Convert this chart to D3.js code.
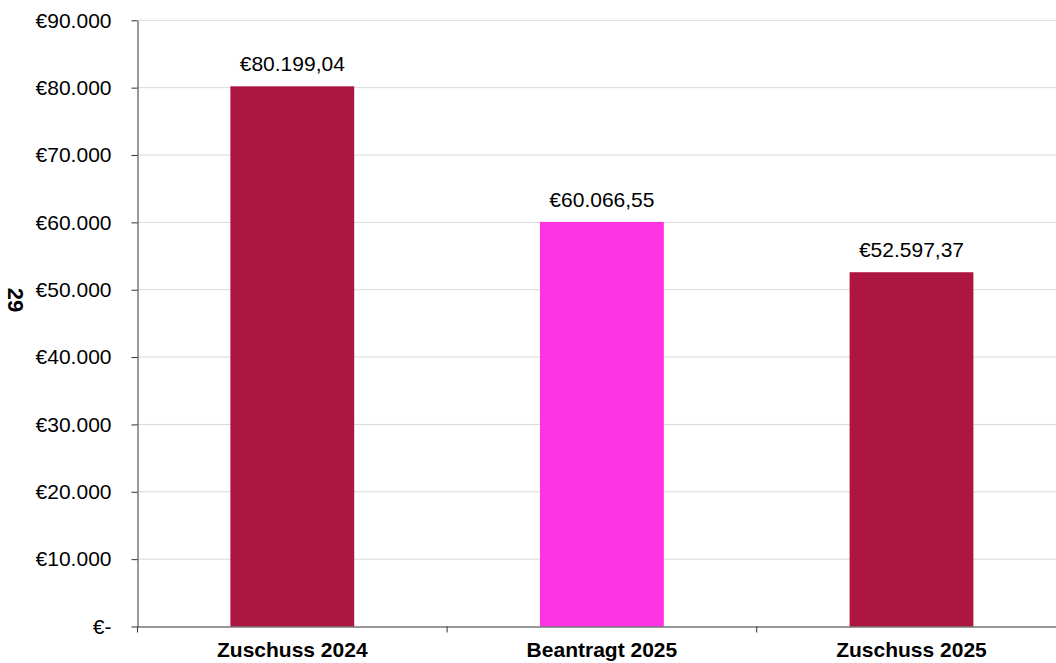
<!DOCTYPE html>
<html><head><meta charset="utf-8">
<script src="https://cdn.jsdelivr.net/npm/d3@7"></script>
<style>body{margin:0;background:#fff}svg{display:block}text{font-family:"Liberation Sans",Arial,sans-serif}</style>
</head><body><svg id="c" width="1056" height="663"></svg>
<script>
const categories = ["Zuschuss 2024", "Beantragt 2025", "Zuschuss 2025"];
const values = [80199.04, 60066.55, 52597.37];
const colors = ["#AD1640", "#FF33E6", "#AD1640"];
const yTicks = [0, 10000, 20000, 30000, 40000, 50000, 60000, 70000, 80000, 90000];
const yTitle = "29";

const svg = d3.select("#c");
const FONT = '"Liberation Sans",Arial,sans-serif';
const x0 = 137.5, x1 = 137.5 + 3 * 309.6, yBot = 626.5, yTop = 20.3;
const x = d3.scaleBand().domain(categories).range([x0, x1]).paddingInner(0).paddingOuter(0);
const y = d3.scaleLinear().domain([0, 90000]).range([yBot, yTop]);

const fmtTick = v => v === 0 ? "€-" : "€" + d3.format(",")(v).replace(/,/g, ".");
const fmtVal = v => "€" + d3.format(",.2f")(v).replace(/,/g, "#").replace(".", ",").replace(/#/g, ".");

// gridlines
svg.append("g").selectAll("line").data(yTicks.filter(d => d > 0)).join("line")
  .attr("x1", x0).attr("x2", 1056).attr("y1", d => y(d)).attr("y2", d => y(d))
  .attr("stroke", "#d9d9d9").attr("stroke-width", 1);

// bars
const bw = x.bandwidth() * 0.4;
svg.append("g").selectAll("rect").data(values).join("rect")
  .attr("x", (d, i) => x(categories[i]) + x.bandwidth() / 2 - bw / 2)
  .attr("width", bw)
  .attr("y", d => y(d)).attr("height", d => yBot - y(d))
  .attr("fill", (d, i) => colors[i]);

// value labels
svg.append("g").selectAll("text").data(values).join("text")
  .attr("x", (d, i) => x(categories[i]) + x.bandwidth() / 2)
  .attr("y", d => y(d) - 15)
  .attr("text-anchor", "middle").attr("font-size", 21).attr("fill", "#000")
  .text(fmtVal);

// y axis
const ya = svg.append("g").attr("transform", `translate(${x0},0)`)
  .call(d3.axisLeft(y).tickValues(yTicks).tickFormat(fmtTick).tickSize(6).tickPadding(20).tickSizeOuter(0));
ya.select(".domain").attr("stroke", "#333");
ya.selectAll(".tick line").attr("stroke", "#333");
ya.selectAll(".tick text").attr("font-size", 21).attr("fill", "#000").attr("font-family", FONT);

// x axis
const xa = svg.append("g").attr("transform", `translate(0,${yBot})`)
  .call(d3.axisBottom(x).tickSize(0).tickPadding(16).tickSizeOuter(0));
xa.select(".domain").attr("stroke", "#333");
xa.selectAll(".tick text").attr("font-size", 21).attr("font-weight", "bold").attr("fill", "#000")
  .attr("font-family", FONT);
// category boundary ticks
svg.append("g").selectAll("line").data(categories).join("line")
  .attr("x1", d => x(d)).attr("x2", d => x(d)).attr("y1", yBot).attr("y2", yBot + 6)
  .attr("stroke", "#333");

// y title
svg.append("text").attr("transform", "translate(8,300) rotate(90)")
  .attr("text-anchor", "middle").attr("font-size", 22).attr("font-weight", "bold").text(yTitle);
</script></body></html>
